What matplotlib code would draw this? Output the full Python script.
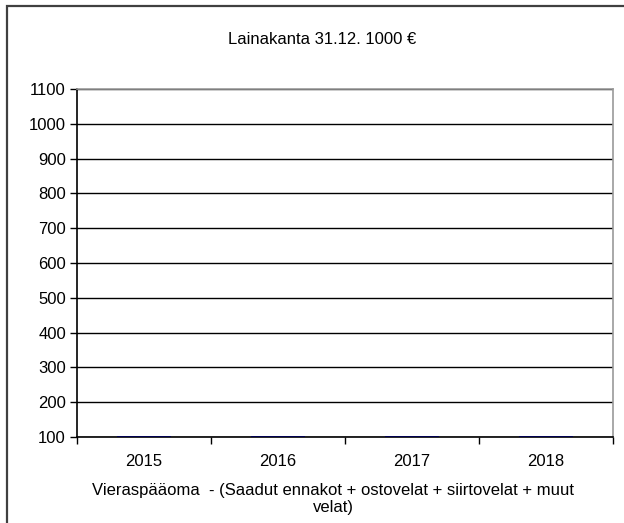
import matplotlib.pyplot as plt
from matplotlib.patches import Rectangle

plt.rcParams['font.family'] = ['Liberation Sans', 'DejaVu Sans']

years = ['2015', '2016', '2017', '2018']
values = [102, 102, 102, 102]
y_ticks = [100, 200, 300, 400, 500, 600, 700, 800, 900, 1000, 1100]

fig = plt.figure(figsize=(6.24, 5.23), dpi=100)
fig.patches.append(Rectangle((7 / 624, -0.1), 1.2, 1.1 - 6 / 523, transform=fig.transFigure,
                             fill=False, edgecolor='#404040', linewidth=1.6))

ax = fig.add_axes([77 / 624, 1 - 437 / 523, (613 - 77) / 624, (437 - 89) / 523])
x = range(len(years))
ax.bar(x, values, width=0.4, color='#000050', zorder=3)

ax.set_ylim(100, 1100)
ax.set_xlim(-0.5, len(years) - 0.5)
ax.set_yticks(y_ticks)
ax.set_xticks(x)
ax.set_xticklabels(years)
ax.set_xticks([i - 0.5 for i in range(len(years) + 1)], minor=True)
ax.tick_params(axis='x', which='major', length=0, pad=12, labelsize=12)
ax.tick_params(axis='x', which='minor', length=5, width=1)
ax.tick_params(axis='y', length=5, width=1, labelsize=12, pad=3)
ax.grid(axis='y', color='black', linewidth=1, zorder=0)

ax.spines['left'].set_color('black')
ax.spines['bottom'].set_color('black')
ax.spines['top'].set_color('#999999')
ax.spines['right'].set_color('#999999')
for s in ax.spines.values():
    s.set_linewidth(1.2)

fig.text(322 / 624, 1 - 40 / 523, 'Lainakanta 31.12. 1000 €', ha='center', va='center', fontsize=12)
fig.text(333 / 624, 1 - 499 / 523,
         'Vieraspääoma  - (Saadut ennakot + ostovelat + siirtovelat + muut\nvelat)',
         ha='center', va='center', fontsize=12, linespacing=1.2)

fig.savefig('out.png', dpi=100)
